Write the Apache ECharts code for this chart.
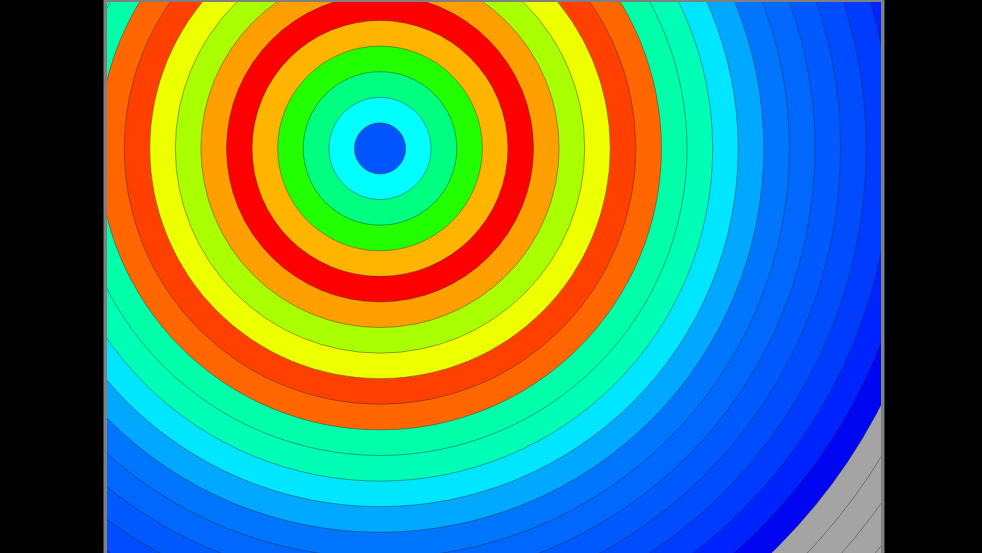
<!DOCTYPE html>
<html>
<head>
<meta charset="utf-8">
<script src="https://cdn.jsdelivr.net/npm/echarts@6/dist/echarts.min.js"></script>
<style>
html,body{margin:0;padding:0;background:#000;}
#chart{width:982px;height:553px;}
</style>
</head>
<body>
<div id="chart"></div>
<script>
// Axis extents (data units: one contour step = 1 unit)
const xRange = [0, 30.25];
const yRange = [0, 21.56];
// Centre of the concentric contours
const center = [10.67, 15.83];
// Contour level radii (outer edge of each band), inner to outer
const levels = [1, 2, 3, 4, 5, 6, 7, 8, 9, 10, 11, 12, 13, 14, 15, 16, 17, 18, 19, 20, 21, 22, 23, 24, 25, 26, 27];
// Band fill colours, inner to outer
const bandColors = [
  '#0055ff', '#00ffff', '#00ff80', '#22ff00', '#ffb400',
  '#ff0000', '#ffa000', '#aaff00', '#eeff00', '#ff4000',
  '#ff6600', '#00ffa8', '#00ffb6', '#00e6ff', '#00a8ff',
  '#0076ff', '#0068ff', '#005aff', '#004cff', '#003cff',
  '#0024ff', '#0006f2', '#a4a4a4', '#a4a4a4', '#a4a4a4',
  '#a4a4a4', '#a4a4a4'
];

const data = [];
for (let i = levels.length - 1; i >= 0; i--) {
  data.push([center[0], center[1], levels[i], i]);
}

const chart = echarts.init(document.getElementById('chart'), null, {renderer: 'canvas'});
chart.setOption({
  backgroundColor: '#000000',
  animation: false,
  grid: {
    left: 107, right: 101, top: 2, bottom: 0,
    show: true, borderColor: '#808080', borderWidth: 7, backgroundColor: '#a4a4a4'
  },
  xAxis: { type: 'value', min: xRange[0], max: xRange[1], show: false },
  yAxis: { type: 'value', min: yRange[0], max: yRange[1], show: false },
  series: [{
    type: 'custom',
    clip: true,
    data: data,
    renderItem: function (params, api) {
      const c = api.coord([api.value(0), api.value(1)]);
      const e = api.coord([api.value(0) + api.value(2), api.value(1)]);
      const r = Math.abs(e[0] - c[0]);
      const idx = api.value(3);
      return {
        type: 'circle',
        shape: { cx: c[0], cy: c[1], r: r },
        style: {
          fill: bandColors[idx],
          stroke: 'rgba(40,40,40,0.6)',
          lineWidth: 0.7
        }
      };
    }
  }]
});
</script>
</body>
</html>
